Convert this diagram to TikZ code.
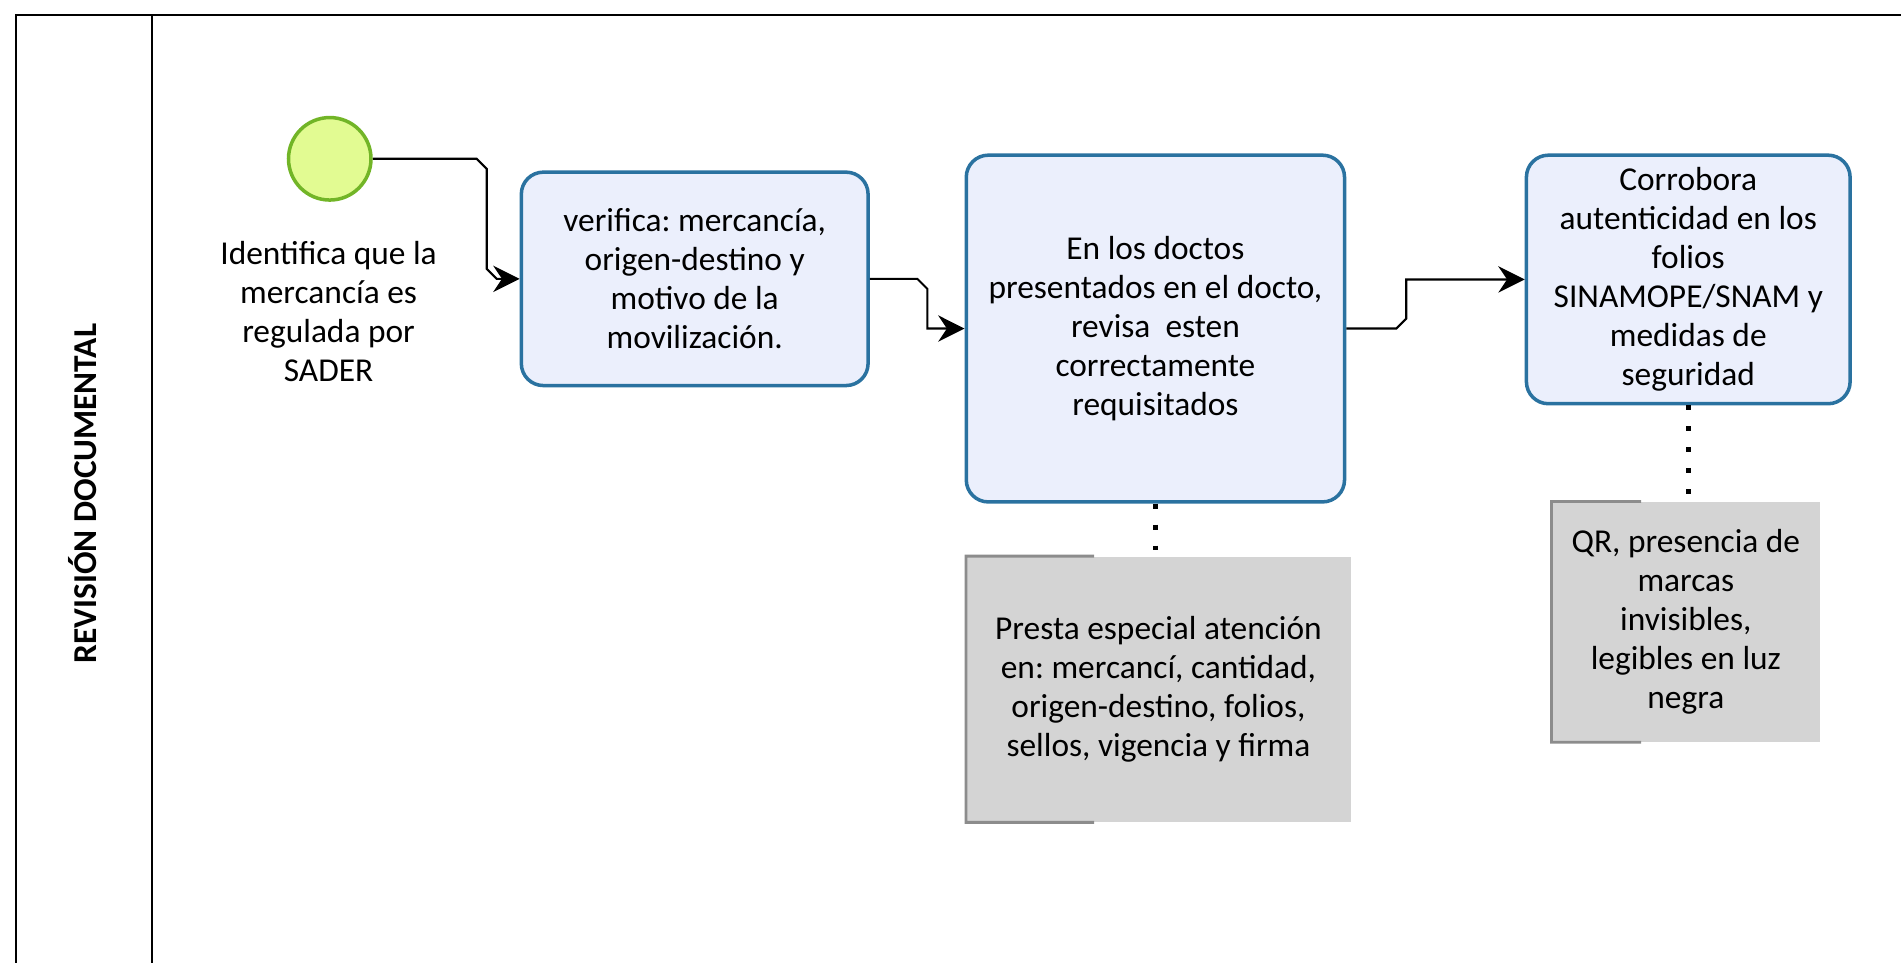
\documentclass[tikz,border=0pt]{standalone}
\usepackage{fontspec}
\setmainfont{Carlito}
\usepackage{tikz}
\usepackage{xcolor}
\usetikzlibrary{calc}
\usetikzlibrary{arrows.meta}
\frenchspacing

\definecolor{taskfill}{HTML}{EBEFFC}
\definecolor{taskline}{HTML}{2A72A0}
\definecolor{startfill}{HTML}{E2FB92}
\definecolor{startline}{HTML}{72B527}
\definecolor{notefill}{HTML}{D4D4D4}
\definecolor{notebrk}{HTML}{8C8C8C}

\tikzset{
	txt/.style={font=\fontsize{19}{22.2}\selectfont, align=center, text=black},
	task/.style={txt, draw=taskline, fill=taskfill, line width=2pt, rounded corners=0.44cm, inner sep=0pt},
	note/.style={txt, fill=notefill, inner sep=0pt},
	flow/.style={black, line width=1.2pt, -{Stealth[length=15pt,width=15pt,inset=5pt]}},
	assoc/.style={black, line width=2.8pt, dash pattern=on 2.8pt off 9.1pt},
	notebracket/.style={notebrk, line width=1.6pt},
}

\begin{document}
\begin{tikzpicture}
		\useasboundingbox (0,0) rectangle (38.02,-19.26);
		\draw[black, line width=1.1pt] (38.02,-0.291) -- (0.315,-0.291) -- (0.315,-19.26);
		\draw[black, line width=1.1pt] (3.031,-0.291) -- (3.031,-19.26);
		\node[txt, font=\fontsize{19}{22.2}\selectfont\bfseries, rotate=90] (lane) at (1.649,-9.869) {REVISIÓN DOCUMENTAL};
		\node[circle, draw=startline, fill=startfill, line width=2pt, minimum size=1.65cm, inner sep=0pt] (start) at (6.595,-3.176) {};
		\node[txt] (startlbl) at (6.571,-6.232) {Identifica que la\\mercancía es\\regulada por\\SADER};
		\node[task, minimum width=6.935cm, minimum height=4.268cm] (t1) at (13.894,-5.577) {verifica: mercancía,\\origen-destino y\\motivo de la\\movilización.};
		\node[task, minimum width=7.565cm, minimum height=6.935cm] (t2) at (23.108,-6.571) {En los doctos\\presentados en el docto,\\revisa\ \ esten\\correctamente\\requisitados};
		\node[task, minimum width=6.474cm, minimum height=4.971cm] (t3) at (33.765,-5.589) {Corrobora\\autenticidad en los\\folios\\SINAMOPE/SNAM y\\medidas de\\seguridad};
		\node[note, minimum width=7.686cm, minimum height=5.310cm] (n1) at (23.169,-13.785) {Presta especial atención\\en: mercancí, cantidad,\\origen-destino, folios,\\sellos, vigencia y firma};
		\node[note, minimum width=5.359cm, minimum height=4.801cm] (n2) at (33.717,-12.439) {QR, presencia de\\marcas\\invisibles,\\legibles en luz\\negra};
		\draw[notebracket] ($(n1.north west)!0.333!(n1.north east)$) -- (n1.north west) -- (n1.south west) -- ($(n1.south west)!0.333!(n1.south east)$);
		\draw[notebracket] ($(n2.north west)!0.333!(n2.north east)$) -- (n2.north west) -- (n2.south west) -- ($(n2.south west)!0.333!(n2.south east)$);
		\draw[flow] (start.east) -- ++(2.08,0) -- ++(0.2,-0.2) -- ++(0,-2.001) -- ++(0.2,-0.2) -- (t1.west);
		\draw[flow] (t1.east) -- ++(0.95,0) -- ++(0.2,-0.2) -- ++(0,-0.794) -- (t2.west);
		\draw[flow] (t2.east) -- ++(1.0,0) -- ++(0.2,0.2) -- ++(0,0.782) -- (t3.west);
		\draw[assoc] (t2.south) -- (t2.south |- n1.north);
		\draw[assoc] (t3.south) -- (t3.south |- n2.north);
	\end{tikzpicture}
\end{document}
